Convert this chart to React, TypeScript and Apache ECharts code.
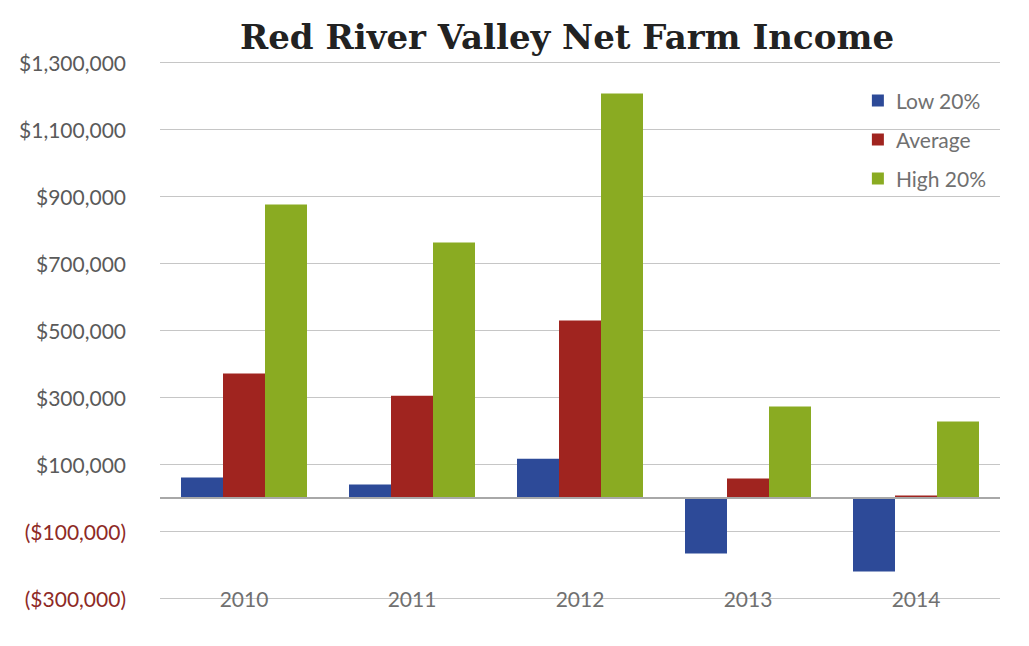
import React, { useEffect, useRef } from "react";
import * as echarts from "echarts";

const categories = ["2010", "2011", "2012", "2013", "2014"];
const low20 = [60000, 39000, 116000, -167000, -221000];
const average = [370000, 304000, 528000, 57000, 6000];
const high20 = [875000, 761000, 1206000, 272000, 227000];
const seriesNames = ["Low 20%", "Average", "High 20%"];
const colors = ["#2d4a98", "#a0241f", "#8aab22"];

function fmt(v: number): string {
  const s = Math.abs(v).toLocaleString("en-US");
  return v < 0 ? `($${s})` : `$${s}`;
}

export default function App() {
  const ref = useRef<HTMLDivElement>(null);
  useEffect(() => {
    if (!ref.current) return;
    const chart = echarts.init(ref.current, undefined, { renderer: "svg" });
    const font = "Lato, 'Open Sans', sans-serif";
    chart.setOption({
      animation: false,
      backgroundColor: "#ffffff",
      title: {
        text: "Red River Valley Net Farm Income",
        left: 562,
        textAlign: "center",
        top: 15,
        textStyle: {
          fontFamily: "'DejaVu Serif', serif",
          fontWeight: "bold",
          fontSize: 34,
          color: "#222222",
        },
      },
      legend: {
        orient: "vertical",
        right: 38,
        top: 85,
        itemWidth: 12,
        itemHeight: 12,
        itemGap: 18,
        icon: "rect",
        textStyle: { fontFamily: font, fontSize: 21, color: "#707070", padding: [0, 0, 0, 7] },
        data: seriesNames,
      },
      grid: { left: 160, right: 29, top: 62, bottom: 48 },
      xAxis: {
        type: "category",
        data: categories,
        axisLine: { show: false, onZero: false },
        axisTick: { show: false },
        axisLabel: { margin: -10, fontFamily: font, fontSize: 21, color: "#707070" },
      },
      yAxis: {
        type: "value",
        min: -300000,
        max: 1300000,
        interval: 200000,
        axisLine: { show: false },
        axisTick: { show: false },
        splitLine: { lineStyle: { color: "#c6c6c6", width: 1 } },
        axisLabel: {
          margin: 34,
          fontFamily: font,
          fontSize: 21,
          formatter: (v: number) => fmt(v),
          color: (v: any) => (Number(v) < 0 ? "#8e2a26" : "#5a5a5a"),
        },
      },
      series: [
        {
          name: seriesNames[0],
          type: "bar",
          data: low20,
          barGap: "0%",
          barCategoryGap: "25%",
          itemStyle: { color: colors[0] },
          markLine: {
            silent: true,
            symbol: "none",
            label: { show: false },
            lineStyle: { color: "#a8a8a8", width: 2, type: "solid" },
            data: [{ yAxis: 0 }],
          },
        },
        {
          name: seriesNames[1],
          type: "bar",
          data: average,
          barGap: "0%",
          barCategoryGap: "25%",
          itemStyle: { color: colors[1] },
        },
        {
          name: seriesNames[2],
          type: "bar",
          data: high20,
          barGap: "0%",
          barCategoryGap: "25%",
          itemStyle: { color: colors[2] },
        },
      ],
    });
    return () => chart.dispose();
  }, []);
  return (
    <div
      ref={ref}
      style={{ position: "fixed", left: 0, top: 0, width: 1029, height: 646 }}
    />
  );
}
